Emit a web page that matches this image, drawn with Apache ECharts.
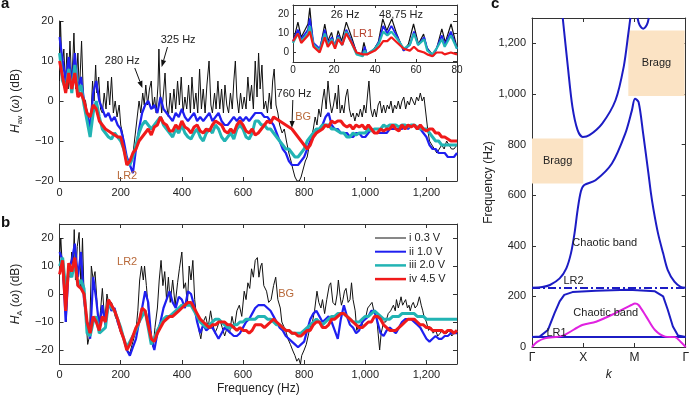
<!DOCTYPE html>
<html><head><meta charset="utf-8">
<script src="https://cdn.jsdelivr.net/npm/echarts@6/dist/echarts.min.js"></script>
<style>html,body{margin:0;padding:0;background:#fff}#c{width:692px;height:399px}</style>
</head><body><div id="c"></div>
<script>
// ---------- shared frequency grid (Hz) for panels a and b ----------
const freq = [
0,10,20,30,40,50,60,70,80,90,
100,110,120,130,140,150,160,170,180,190,
200,210,220,230,240,250,260,270,280,290,
300,310,320,330,340,350,360,370,380,390,
400,410,420,430,440,450,460,470,480,490,
500,510,520,530,540,550,560,570,580,590,
600,610,620,630,640,650,660,670,680,690,
700,710,720,730,740,750,760,770,780,790,
800,810,820,830,840,850,860,870,880,890,
900,910,920,930,940,950,960,970,980,990,
1000,1010,1020,1030,1040,1050,1060,1070,1080,1090,
1100,1110,1120,1130,1140,1150,1160,1170,1180,1190,
1200,1210,1220,1230,1240,1250,1260,1270,1280,1290,
1300];

// ---------- panel a : H_av (dB) ----------
const redA = [
10,6,2,7,3,7,1,2,0,-3,
-4,-1,-2,-5,-6,-7,-7.5,-8,-8.5,-9,
-9,-12,-16,-15,-13,-12,-10,-9,-8,-7,
-8.5,-6.5,-6,-4,-5.5,-6,-7.5,-7.5,-6,-7,
-5,-6.5,-7,-8,-6.5,-6,-7.5,-8,-7,-7.5,
-6,-5,-5.5,-6,-7.5,-8,-7,-8,-6,-5,
-6,-7.5,-8,-7,-8.5,-8,-7,-6,-5,-5.5,
-4,-4.5,-5,-5.5,-6,-6.5,-7,-8,-9,-10,
-11,-12,-11,-9,-8,-7.5,-7,-6,-6.5,-5,
-5.5,-5,-5,-6,-6.5,-6,-7,-6,-6.5,-6,
-7,-6,-7,-8,-8,-7,-7.5,-7,-7,-6,
-7,-7.5,-6,-7,-6,-6.5,-6,-7,-6,-7,
-7.5,-7,-7,-8,-8,-9,-9,-9.5,-10,-10,
-10];
const cyanA = [
12,5,3,8,2,9,2,4,-1,-5,
-9,-3,0,-4,-7,-8,-9,-9.5,-8,-9,
-10,-12,-15,-16,-14,-11,-8,-6,-5,-6,
-7,-6,-5,-4,-6,-7,-8,-9,-7,-8,
-6,-8,-9,-9.5,-8,-7,-9,-10,-8,-7,
-8,-6,-7,-9,-10,-9,-8,-9.5,-7,-6,
-7,-9,-9.5,-8,-5,-5,-6,-6,-7,-7,
-8,-9,-10,-11,-12,-12,-13,-14,-14,-13,
-12,-10,-9,-8,-7,-7,-6,-6,-6,-7,
-7,-7.5,-8,-8,-9,-9,-8,-8.5,-8,-8,
-8,-7,-7.5,-7,-7,-7,-6,-6.5,-6,-6,
-6,-6.5,-6,-6,-6.5,-6,-6,-6.5,-7,-7,
-7,-8,-9,-10,-10,-11,-11,-11,-11,-11,
-11];
const blueA = [
16,10,5,11,4,12,3,6,0,-3,
-7,2,5,0,-2,-4,-3,-5,-4,-6,
-7,-10,-14,-16,-18,-12,-7,-3,-1,0,
-2,-1,-3,1,-2,-3,-4,-5,-3,-4,
-2,-4,-5,-4,-3,-5,-4,-5,-4,-3,
-5,-4,-3,-5,-6,-6,-5,-4,-5,-4,
-5,-4,-5,-4,-3,-3,-3,-4,-4,-5,
-6,-8,-10,-12,-13,-15,-16,-16,-16,-15,
-14,-12,-10,-9,-8,-7,-6,-4,-3,-6,
-7,-7,-8,-8,-8,-9,-9,-8,-8,-9,
-9,-8,-7,-8,-8,-8,-8,-8,-7,-7,
-7,-7,-7,-6,-7,-6,-6,-7,-7,-8,
-9,-11,-12,-12,-13,-13,-13,-14,-14,-14,
-13];
const blackA = [
[0,5],[3,20],[8,8],[14,13],[19,4],[24,12],[28,3],[34,15],[40,4],[47,17],[53,3],[60,12],[65,2],[72,15],[78,1],[85,0],
[92,-4],[97,-6],[103,-3],[108,5],[113,0],[118,9],[122,2],[128,6],[134,-2],[140,-3],[146,2],[152,-2],[158,5],[164,-1],
[170,6],[176,-3],[182,0],[188,-4],[195,-1],[200,-6],[206,-8],[212,-11],[218,-14],[224,-16],[230,-16],[236,-15],[242,-12],
[248,-8],[254,-4],[260,0],[266,-3],[272,2],[277,-1],[282,4],[288,-1],[294,3],[300,5],[305,-2],[311,1],[316,-3],[322,4],
[325,13],[329,2],[334,-3],[340,2],[345,7],[350,-1],[356,-4],[362,2],[368,-3],[374,3],[380,-2],[386,5],[392,-1],[398,6],
[404,-3],[410,1],[416,-2],[422,4],[428,-3],[433,6],[440,-2],[446,2],[452,-3],[458,8],[464,-2],[470,3],[476,-3],[482,4],
[489,10],[495,-1],[500,-3],[507,2],[512,-2],[518,5],[524,-2],[530,3],[536,-3],[541,4],[547,-1],[553,-3],[559,2],[565,-2],
[570,5],[575,10],[580,1],[586,-3],[592,2],[598,-2],[604,1],[610,-2],[616,6],[622,0],[628,4],[634,-2],[640,10],[646,1],
[651,12],[656,3],[662,9],[668,-2],[674,0],[680,-3],[686,2],[692,-2],[697,5],[702,8],[708,-1],[714,-3],[720,-6],[728,-8],
[735,-7],[742,-10],[750,-13],[757,-15],[763,-17],[770,-19],[777,-20],[784,-20],[790,-19],[797,-17],[804,-15],[810,-14],
[817,-11],[824,-9],[830,-7],[836,-4],[842,-6],[848,-2],[854,-4],[860,0],[866,3],[872,-2],[878,5],[884,0],[890,-3],
[896,-1],[902,2],[908,-2],[912,4],[918,-3],[924,-1],[930,-3],[936,1],[942,3],[948,-2],[954,-4],[960,-3],[966,-5],
[972,-3],[978,-4],[984,-2],[990,-4],[996,-1],[1002,-3],[1008,2],[1012,5],[1018,-2],[1024,-4],[1030,-2],[1036,-4],
[1042,-1],[1048,0],[1054,-3],[1060,-1],[1066,-3],[1072,-1],[1078,-2],[1084,0],[1090,-3],[1096,-1],[1102,-2],[1108,0],
[1114,-2],[1120,0],[1126,1],[1132,-2],[1138,0],[1144,-1],[1150,1],[1156,0],[1162,-1],[1168,1],[1174,0],[1180,2],
[1186,0],[1192,1],[1198,-3],[1204,-7],[1210,-10],[1218,-11],[1226,-12],[1234,-13],[1242,-12],[1250,-11],[1258,-12],
[1266,-10],[1274,-11],[1282,-12],[1290,-12],[1300,-11]];

// ---------- inset (0-80 Hz) ----------
const insetFreq = [0,2.4,4,7.3,8.2,10,13,15.5,17,19,20.5,22,24,26,28.6,31,34,35,36,40,42,44,46,48,51,54,57,59,61,64,65.5,68,70,72.6,74,77,80];
const insetBlue = [6,12,7,12,18,5,2,12,5,8,3,9,4,12,6,0,-1,3,-1,2,6,14,10,14,8,1,4,11,4,8,2,-2,2,9,4,11,2];
const insetCyan = [5,10,6,10,14,4,1,10,4,7,3,8,4,11,5,-1,-2,1,-1,2,5,11,9,11,7,2,4,10,4,7,1,-1,2,7,3,9,2];
const insetRed  = [6,10,5,9,11,3,0,8,3,6,2,7,4,10,5,0,-1,-1,-1,1,3,6,6,8,5,2,1,3,1,0,-1,-2,0,0,-1,0,-1];
const insetBlack = [[0,5.3],[2.4,16],[4,8],[7.3,15],[8.2,23.5],[9.8,4.4],[13,1],[15.5,15],[17,6],[18.8,10.6],[20.4,2.6],
[22,11.5],[23.7,6],[26,16],[28.6,8],[31,0],[33.5,-1],[34.6,5.3],[36,-1],[39,1],[41.6,5.3],[43.8,17.7],[45.7,11.5],
[48.2,17.7],[50.6,9.7],[53.9,0.9],[56.3,4.4],[58.8,15],[61.2,4.4],[63.7,9.7],[65.3,2.6],[68.6,-1.8],[70.2,2.6],
[72.6,12.4],[74.3,5.3],[77.1,15],[80,2.6]];

// ---------- panel b : H_A (dB) ----------
const redB = [
7,12,-6,11,8,13,3,2,0,-10,
-14,-8,-10,-13,-8,-10,-2,-4,-6,-9,
-13,-16,-20,-18,-15,-12,-10,-5,-6,-11,
-16,-17,-14,-12,-10,-9,-8,-8,-7,-6,
-5,-4,-3,-3,-5,-7,-9,-10,-11,-12,
-11,-11,-10,-10,-10,-11,-11,-12,-13,-12,
-13,-13,-14,-13,-11,-11,-11,-12,-11,-10,
-9,-10,-11,-12,-13,-13,-14,-14,-15,-15,
-14,-13,-13,-11,-10,-10,-12,-12,-11,-9,
-9,-8,-7,-7,-8,-9,-10,-11,-12,-12,
-11,-10,-10,-8,-8,-9,-11,-12,-13,-13,
-13,-12,-11,-10,-9,-9,-9,-10,-11,-11,
-12,-12,-13,-13,-13,-13,-14,-13,-13,-14,
-13];
const cyanB = [
10,13,2,8,6,12,3,5,2,-14,
-15,-10,-8,-14,-13,-12,-3,-5,-6,-9,
-12,-16,-19,-17,-15,-13,-10,-8,-6,-12,
-18,-16,-13,-11,-9,-8,-8,-7,-6,-5,
-4,-4,-4,-4,-6,-8,-10,-11,-12,-11,
-10,-9,-9,-10,-11,-12,-12,-11,-11,-10,
-10,-9,-9,-9,-9,-8,-8,-8,-9,-9,
-10,-11,-11,-12,-13,-13,-14,-14,-14,-14,
-13,-12,-11,-10,-9,-10,-11,-10,-9,-8,
-8,-7,-7,-7,-8,-9,-10,-10,-10,-9,
-8,-8,-7,-6,-7,-8,-9,-9,-9,-8,
-8,-8,-7,-7,-7,-7,-7,-8,-8,-8,
-9,-9,-9,-9,-9,-9,-9,-9,-9,-9,
-9];
const blueB = [
15,12,-10,9,12,18,6,15,-2,-10,
-16,6,-2,-12,-4,-11,-3,-6,-5,-10,
-13,-16,-20,-22,-19,-16,-10,-5,1,-3,
-16,-20,-14,-10,-5,-2,1,-3,-5,-1,
-2,-5,1,0,-4,-10,-14,-11,-13,-12,
-12,-14,-16,-14,-12,-13,-14,-15,-15,-14,
-12,-10,-9,-7,-5,-4,-4,-4,-5,-6,
-8,-10,-12,-13,-15,-16,-17,-18,-19,-18,
-17,-13,-9,-7,-6,-8,-10,-9,-8,-10,
-13,-16,-9,-4,-8,-11,-12,-14,-13,-10,
-9,-8,-6,-6,-10,-14,-15,-13,-12,-13,
-14,-12,-10,-9,-9,-9,-10,-11,-12,-14,
-16,-17,-16,-15,-16,-16,-15,-15,-14,-14,
-14];
const blackB = [
[0,12],[4,20],[10,8],[16,-2],[22,-10],[28,10],[34,6],[40,15],[44,8],[48,23],[52,5],[58,17],[64,22],[70,2],[75,20],[80,0],
[86,-8],[92,-18],[98,-15],[104,10],[110,5],[116,8],[122,-2],[128,-12],[134,-6],[140,2],[148,-10],[155,0],[162,-4],
[170,-3],[176,-5],[182,-8],[190,-10],[200,-14],[210,-16],[220,-20],[230,-21],[240,-17],[250,-13],[256,-6],[262,5],
[268,10],[274,5],[278,10],[284,3],[290,-5],[295,-12],[300,-14],[306,-19],[312,-12],[320,-5],[326,5],[332,12],[338,3],
[344,8],[350,-2],[356,6],[362,-3],[370,5],[378,-4],[386,4],[392,9],[400,15],[406,2],[412,4],[418,-4],[424,10],[430,5],
[436,12],[442,-2],[448,-8],[456,-13],[462,-16],[470,-10],[478,-8],[486,-12],[494,-6],[500,-10],[508,-14],[516,-12],
[524,-9],[532,-12],[540,-15],[548,-12],[556,-14],[564,-8],[572,-12],[580,-6],[588,-4],[596,-8],[604,1],[610,-2],
[616,4],[622,2],[628,9],[634,6],[640,12],[647,13],[652,6],[658,10],[662,11],[668,3],[677,1],[684,-3],[692,-2],
[700,3],[707,6],[714,-2],[722,-5],[727,-10],[735,-12],[742,-14],[747,-16],[755,-18],[762,-20],[770,-22],[776,-24],
[782,-23],[788,-25],[792,-22],[800,-20],[807,-18],[815,-14],[822,-11],[827,-10],[834,-6],[842,1],[848,-3],[855,-5],
[860,-2],[867,-7],[874,-2],[882,3],[887,4],[894,-3],[902,-4],[908,0],[912,5],[918,-1],[922,-4],[927,-2],[932,1],
[937,2],[944,-3],[950,-2],[955,4],[960,-2],[967,-6],[972,-13],[980,-11],[987,-12],[995,-9],[1002,-8],[1008,-5],
[1015,-4],[1022,-3],[1030,-7],[1037,-8],[1042,-14],[1047,-20],[1052,-14],[1060,-10],[1067,-10],[1075,-7],[1083,-6],
[1092,-4],[1098,-6],[1102,-2],[1108,-5],[1113,-3],[1117,-1],[1122,-4],[1127,-3],[1132,-2],[1138,-5],[1143,-4],
[1147,-6],[1152,-4],[1157,-3],[1163,-5],[1170,-4],[1177,-1],[1183,-4],[1188,-6],[1192,-8],[1200,-10],[1207,-13],
[1215,-12],[1222,-14],[1230,-13],[1237,-15],[1245,-14],[1252,-13],[1260,-14],[1267,-14],[1275,-13],[1283,-15],
[1290,-14],[1300,-14]];

// ---------- panel c : band structure (k: 0=Γ, 1=X, 2=M, 3=Γ) ----------
const kTicks = ['\u0393','X','M','\u0393'];
const kFlat = [0,3];
const fLR1 = [40,40];
const fLR2 = [233,233];
const k2 = [0,0.15,0.31,0.44,0.54,0.63,0.79,1.25,1.88,2.4,2.56,2.65,2.75,2.85,3];
const f2 = [40,41,67,134,180,206,217,222,226,220,200,147,81,45,40];
const k3 = [0,0.2,0.35,0.54,0.67,0.76,0.83,0.89,0.955,1.02,1.24,1.56,1.82,1.95,2.01,2.08,2.17,2.27,2.32,2.37,2.46,2.56,2.65,2.78,2.9,3];
const f3 = [234,237,245,271,311,370,449,541,615,640,659,725,843,935,981,968,843,690,610,545,449,370,304,258,238,234];
const k4 = [0.60,0.70,0.79,0.89,0.99,1.12,1.37,1.63,1.79,1.88,1.92];
const f4 = [1300,1107,948,857,830,837,883,975,1107,1238,1300];
const k5 = [2.06,2.1,2.17,2.24,2.28];
const f5 = [1300,1272,1258,1272,1300];
const kMag = [0,0.1,0.25,0.6,0.98,1.25,1.63,1.94,2.01,2.08,2.23,2.4,2.6,2.79,2.9,3];
const fMag = [0,20,34,45,87,100,134,166,172,166,120,67,41,39,21,0];
const braggK = [[0,1.0],[1.88,2.98]];
const braggF = [[646,824],[992,1251]];

// ---------- styling ----------
const FONT = '"Liberation Sans", Arial, Helvetica, sans-serif';
const AX = '#333';
const COL = {black:'#111111', blue:'#1f1ff0', cyan:'#22b4b4', red:'#f01a1a', band:'#1c1cc4', mag:'#e022e0', brown:'#b8693a', lr1:'#b5402c', bragg:'#fbe3c4'};
const pairs = (xs, ys) => xs.map((x,i)=>[x, ys[i]]);
function fmtNum(v){
  const a = Math.abs(v);
  const s = a >= 1000 ? String(a).replace(/(\d)(\d{3})$/, '$1,$2') : String(a);
  return (v < 0 ? '\u2212' : '') + s;
}
const aLine = {show:true, onZero:false, lineStyle:{color:AX, width:1}};
const tk = (extra) => Object.assign({show:true, inside:true, length:4, lineStyle:{color:AX, width:1}}, extra||{});
const lab = (fs, m, f, extra) => Object.assign({show:true, color:'#222', fontSize:fs, fontFamily:FONT, margin:m, formatter:f}, extra||{});
const noSplit = {show:false};

function ser(name, xi, yi, data, color, width, z, extra){
  return Object.assign({type:'line', name, xAxisIndex:xi, yAxisIndex:yi, data, showSymbol:false, symbol:'none',
    lineStyle:{color, width}, itemStyle:{color}, z, silent:true, animation:false, clip:true}, extra||{});
}

const ynameRich = {
  i:{fontStyle:'italic', fontSize:12, fontFamily:FONT, color:'#222'},
  s:{fontSize:8, fontFamily:FONT, color:'#222', verticalAlign:'bottom', lineHeight:9},
  n:{fontSize:12, fontFamily:FONT, color:'#222'}
};

const option = {
  animation:false,
  backgroundColor:'#fff',
  grid:[
    {left:45, top:21, width:412, height:160},
    {left:293, top:5, width:164, height:57},
    {left:45, top:224, width:412, height:140},
    {left:532, top:18, width:156, height:329}
  ],
  xAxis:[
    {gridIndex:0, type:'value', min:0, max:1300, interval:200, axisLine:aLine, axisTick:tk(), splitLine:noSplit,
      axisLabel:lab(11,6,v=> v%200===0 ? fmtNum(v) : '')},
    {gridIndex:1, type:'value', min:0, max:80, interval:20, axisLine:aLine, axisTick:tk({length:3}), splitLine:noSplit,
      axisLabel:lab(10,3,v=>fmtNum(v))},
    {gridIndex:1, type:'value', position:'top', min:0, max:80, interval:20, axisLine:aLine, axisTick:tk({length:3}), splitLine:noSplit, axisLabel:{show:false}},
    {gridIndex:2, type:'value', min:0, max:1300, interval:200, axisLine:aLine, axisTick:tk(), splitLine:noSplit,
      axisLabel:lab(11,5,v=> v%200===0 ? fmtNum(v) : ''),
      name:'Frequency (Hz)', nameLocation:'middle', nameGap:19, nameTextStyle:{fontSize:12, fontFamily:FONT, color:'#222'}},
    {gridIndex:2, type:'value', position:'top', min:0, max:1300, interval:200, axisLine:aLine, axisTick:tk(), splitLine:noSplit, axisLabel:{show:false}},
    {gridIndex:3, type:'value', min:0, max:3, interval:1, axisLine:aLine, axisTick:tk(), splitLine:noSplit,
      axisLabel:lab(12,5,v=>kTicks[v] || ''),
      name:'k', nameLocation:'middle', nameGap:22, nameTextStyle:{fontSize:12, fontStyle:'italic', fontFamily:FONT, color:'#222'}},
    {gridIndex:3, type:'value', position:'top', min:0, max:3, interval:1, axisLine:aLine, axisTick:tk(), splitLine:noSplit, axisLabel:{show:false}}
  ],
  yAxis:[
    {gridIndex:0, type:'value', min:-20, max:20, interval:10, axisLine:aLine, axisTick:tk(), splitLine:noSplit,
      axisLabel:lab(11,6,v=>fmtNum(v)),
      name:'{i|H}{s|av}{n| (}{i|\u03c9}{n|) (dB)}', nameLocation:'middle', nameGap:30, nameRotate:90,
      nameTextStyle:{fontSize:12, fontFamily:FONT, color:'#222', lineHeight:16, rich:ynameRich}},
    {gridIndex:0, type:'value', position:'right', min:-20, max:20, interval:10, axisLine:aLine, axisTick:tk(), splitLine:noSplit, axisLabel:{show:false}},
    {gridIndex:1, type:'value', min:-5, max:25, axisLine:aLine, axisTick:tk({length:3, customValues:[0,10,20]}), splitLine:noSplit,
      axisLabel:lab(10,4,v=>fmtNum(v),{customValues:[0,10,20]})},
    {gridIndex:1, type:'value', position:'right', min:-5, max:25, axisLine:aLine, axisTick:tk({length:3, customValues:[0,10,20]}), splitLine:noSplit, axisLabel:{show:false}},
    {gridIndex:2, type:'value', min:-25, max:25, axisLine:aLine, axisTick:tk({customValues:[-20,-10,0,10,20]}), splitLine:noSplit,
      axisLabel:lab(11,6,v=>fmtNum(v),{customValues:[-20,-10,0,10,20]}),
      name:'{i|H}{s|A}{n| (}{i|\u03c9}{n|) (dB)}', nameLocation:'middle', nameGap:30, nameRotate:90,
      nameTextStyle:{fontSize:12, fontFamily:FONT, color:'#222', lineHeight:16, rich:ynameRich}},
    {gridIndex:2, type:'value', position:'right', min:-25, max:25, axisLine:aLine, axisTick:tk({customValues:[-20,-10,0,10,20]}), splitLine:noSplit, axisLabel:{show:false}},
    {gridIndex:3, type:'value', min:0, max:1300, interval:200, axisLine:aLine, axisTick:tk(), splitLine:noSplit,
      axisLabel:lab(11,6,v=> v%200===0 ? fmtNum(v) : ''),
      name:'Frequency (Hz)', nameLocation:'middle', nameGap:30, nameRotate:90,
      nameTextStyle:{fontSize:12, fontFamily:FONT, color:'#222'}},
    {gridIndex:3, type:'value', position:'right', min:0, max:1300, interval:200, axisLine:aLine, axisTick:tk(), splitLine:noSplit, axisLabel:{show:false}}
  ],
  series:[
    // panel a
    ser('i 0.3 V a', 0, 0, blackA, COL.black, 1, 2),
    ser('ii 1.0 V a', 0, 0, pairs(freq, blueA), COL.blue, 2.2, 3),
    ser('iii 2.0 V a', 0, 0, pairs(freq, cyanA), COL.cyan, 3, 4),
    ser('iv 4.5 V a', 0, 0, pairs(freq, redA), COL.red, 3, 5),
    // inset
    ser('i ins', 1, 2, insetBlack, COL.black, 1.2, 2),
    ser('ii ins', 1, 2, pairs(insetFreq, insetBlue), COL.blue, 1.8, 3),
    ser('iii ins', 1, 2, pairs(insetFreq, insetCyan), COL.cyan, 2.2, 4),
    ser('iv ins', 1, 2, pairs(insetFreq, insetRed), COL.red, 2.2, 5),
    // panel b
    ser('i 0.3 V b', 3, 4, blackB, COL.black, 1, 2),
    ser('ii 1.0 V b', 3, 4, pairs(freq, blueB), COL.blue, 2.2, 3),
    ser('iii 2.0 V b', 3, 4, pairs(freq, cyanB), COL.cyan, 3, 4),
    ser('iv 4.5 V b', 3, 4, pairs(freq, redB), COL.red, 3, 5),
    // panel c
    ser('band1', 5, 6, pairs(kFlat, fLR1), COL.band, 2, 3, {
      markArea:{silent:true, itemStyle:{color:COL.bragg},
        label:{show:true, position:'inside', color:'#222', fontSize:11, fontFamily:FONT},
        data: braggK.map((kk,i)=>[{name:'Bragg', coord:[kk[0], braggF[i][0]]},{coord:[kk[1], braggF[i][1]]}])}
    }),
    ser('band2', 5, 6, pairs(k2, f2), COL.band, 2, 3),
    ser('LR2', 5, 6, pairs(kFlat, fLR2), COL.band, 2, 3, {lineStyle:{color:COL.band, width:2, type:[8,3,2,3]}}),
    ser('band3', 5, 6, pairs(k3, f3), COL.band, 2, 3, {smooth:0.3}),
    ser('band4', 5, 6, pairs(k4, f4), COL.band, 2, 3, {smooth:0.3}),
    ser('band5', 5, 6, pairs(k5, f5), COL.band, 2, 3, {smooth:0.3}),
    ser('mag', 5, 6, pairs(kMag, fMag), COL.mag, 2, 4, {smooth:0.3})
  ]
};

const chart = echarts.init(document.getElementById('c'), null, {renderer:'canvas'});
chart.setOption(option);

// ---------- annotations (data coordinates) ----------
const refs = {a:{xAxisIndex:0,yAxisIndex:0}, ins:{xAxisIndex:1,yAxisIndex:2}, b:{xAxisIndex:3,yAxisIndex:4}, c:{xAxisIndex:5,yAxisIndex:6}};
const notes = [
  {p:'a', at:[205,10], text:'280 Hz'},
  {p:'a', at:[388,15.25], text:'325 Hz'},
  {p:'a', at:[767,1.75], text:'760 Hz'},
  {p:'a', at:[797,-4], text:'BG', color:COL.brown},
  {p:'a', at:[221,-18.75], text:'LR2', color:COL.brown},
  {p:'ins', at:[25.4,19.5], text:'26 Hz'},
  {p:'ins', at:[52.7,19.5], text:'48,75 Hz'},
  {p:'ins', at:[34.1,9.5], text:'LR1', color:COL.lr1},
  {p:'b', at:[221,11.4], text:'LR2', color:COL.brown},
  {p:'b', at:[741,0], text:'BG', color:COL.brown},
  {p:'c', at:[1.42,410], text:'Chaotic band'},
  {p:'c', at:[0.81,262], text:'LR2'},
  {p:'c', at:[1.44,134], text:'Chaotic band'},
  {p:'c', at:[0.48,57], text:'LR1'}
];
const arrows = [
  {p:'a', from:[246,8.25], to:[271,3.25]},
  {p:'a', from:[353,13.5], to:[334,8.5]},
  {p:'a', from:[763,0.25], to:[760,-6.75]}
];
const legendItems = [
  {text:'i 0.3 V', color:COL.black, width:1},
  {text:'ii 1.0 V', color:COL.blue, width:2},
  {text:'iii 2.0 V', color:COL.cyan, width:2.5},
  {text:'iv 4.5 V', color:COL.red, width:2.5}
];

const g = [];
notes.forEach(n=>{
  const p = chart.convertToPixel(refs[n.p], n.at);
  g.push({type:'text', z:100, style:{x:p[0], y:p[1], text:n.text, fill:n.color||'#222', font:'11px '+FONT, textAlign:'center', textVerticalAlign:'middle'}});
});
arrows.forEach(a=>{
  const p1 = chart.convertToPixel(refs[a.p], a.from);
  const p2 = chart.convertToPixel(refs[a.p], a.to);
  const dx = p2[0]-p1[0], dy = p2[1]-p1[1], L = Math.hypot(dx,dy), ux = dx/L, uy = dy/L;
  const hl = 7, hw = 2.6;
  const bx = p2[0]-ux*hl, by = p2[1]-uy*hl;
  g.push({type:'line', z:100, shape:{x1:p1[0], y1:p1[1], x2:bx, y2:by}, style:{stroke:'#111', lineWidth:1}});
  g.push({type:'polygon', z:100, shape:{points:[[p2[0],p2[1]],[bx-uy*hw, by+ux*hw],[bx+uy*hw, by-ux*hw]]}, style:{fill:'#111'}});
});
legendItems.forEach((it,i)=>{
  const y = 238 + i*13.7;
  g.push({type:'line', z:100, shape:{x1:375, y1:y, x2:406, y2:y}, style:{stroke:it.color, lineWidth:it.width}});
  g.push({type:'text', z:100, style:{x:409, y:y, text:it.text, fill:'#222', font:'11px '+FONT, textVerticalAlign:'middle'}});
});
[['a',1,4],['b',1,223],['c',491,4]].forEach(t=>{
  g.push({type:'text', z:100, style:{x:t[1], y:t[2], text:t[0], fill:'#111', font:'bold 15px '+FONT, textVerticalAlign:'middle'}});
});
chart.setOption({graphic:g});
</script>
</body></html>
